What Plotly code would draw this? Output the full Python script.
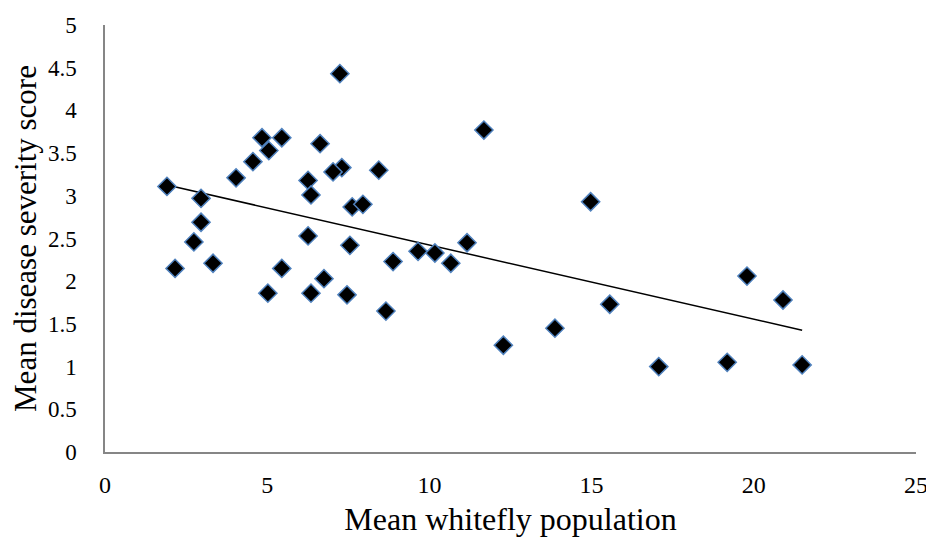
import numpy as np
import plotly.graph_objects as go

whitefly = [1.91, 2.16, 2.96, 2.96, 2.74, 3.33, 4.04, 4.56, 4.84, 5.05, 5.45, 5.02, 5.45,
            6.26, 6.35, 6.26, 6.35, 6.63, 6.75, 7.24, 7.30, 7.03, 7.62, 7.95, 7.55, 7.46,
            8.44, 8.66, 8.88, 9.65, 10.17, 10.66, 11.16, 11.68, 12.28, 13.87, 14.97, 15.56,
            17.07, 19.18, 19.79, 20.90, 21.49]
severity = [3.11, 2.15, 2.97, 2.69, 2.46, 2.21, 3.21, 3.40, 3.68, 3.53, 3.68, 1.86, 2.15,
            3.18, 3.01, 2.53, 1.86, 3.61, 2.03, 4.43, 3.33, 3.28, 2.87, 2.90, 2.42, 1.84,
            3.30, 1.65, 2.23, 2.35, 2.33, 2.21, 2.45, 3.77, 1.25, 1.45, 2.93, 1.73,
            1.00, 1.05, 2.06, 1.78, 1.02]

x_ticks = [0, 5, 10, 15, 20, 25]
y_ticks = [0, 0.5, 1, 1.5, 2, 2.5, 3, 3.5, 4, 4.5, 5]

slope, intercept = np.polyfit(whitefly, severity, 1)
x_fit = [min(whitefly), max(whitefly)]
y_fit = [slope * v + intercept for v in x_fit]

fig = go.Figure()
fig.add_trace(go.Scatter(x=x_fit, y=y_fit, mode="lines",
                         line=dict(color="black", width=1.5), hoverinfo="skip"))
fig.add_trace(go.Scatter(x=whitefly, y=severity, mode="markers", cliponaxis=False,
                         marker=dict(symbol="diamond", size=14, color="black",
                                     line=dict(color="#4F81BD", width=1.5))))

font_family = "Liberation Serif, Times New Roman, serif"
fig.update_layout(
    width=926, height=532,
    margin=dict(l=97, r=18, t=17, b=88),
    plot_bgcolor="white", paper_bgcolor="white",
    showlegend=False,
    font=dict(family=font_family, color="black", size=23),
    xaxis=dict(range=[0, 25], tickvals=x_ticks, showgrid=False, zeroline=False,
               showline=True, linecolor="#868686", linewidth=1.5, ticks="",
               automargin=False,
               ticklabelstandoff=10, tickfont=dict(size=24, family=font_family),
               title=dict(text="Mean whitefly population", standoff=11,
                          font=dict(size=32, family=font_family))),
    yaxis=dict(range=[0, 5], tickvals=y_ticks, showgrid=False, zeroline=False,
               showline=True, linecolor="#868686", linewidth=1.5, ticks="",
               automargin=False,
               ticklabelstandoff=22, tickfont=dict(size=23, family=font_family),
               title=dict(text="Mean disease severity score", standoff=4,
                          font=dict(size=31, family=font_family))),
)

fig.write_html("out.html")
